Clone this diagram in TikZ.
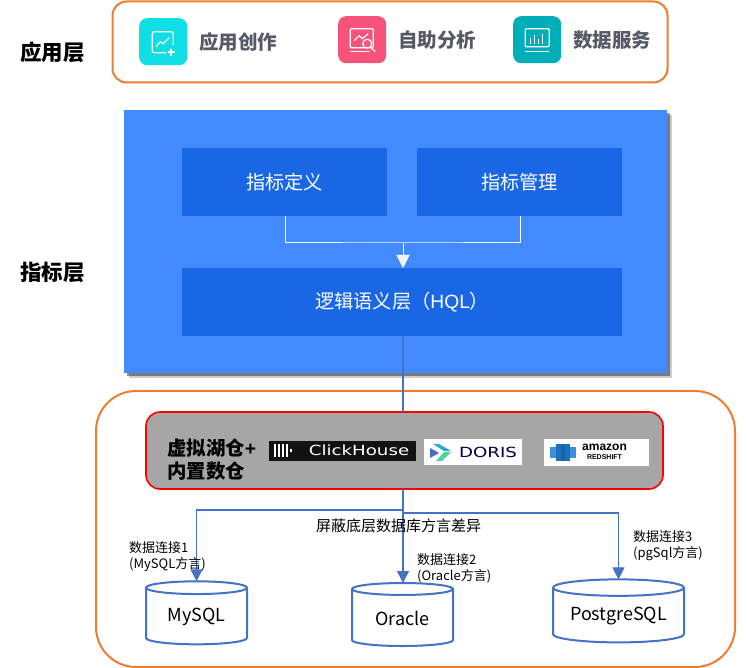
\documentclass[tikz,border=0pt]{standalone}
\usepackage{fontspec}
\setmainfont{Noto Sans CJK SC}
\newfontfamily\latinfont{Liberation Sans}
\newfontfamily\wideFont[FakeStretch=1.3]{DejaVu Sans}
\usetikzlibrary{shapes.geometric,shadows,arrows.meta}
\definecolor{layerorange}{HTML}{ED7D31}
\definecolor{linkblue}{HTML}{4472C4}
\definecolor{panelblue}{HTML}{448AFF}
\definecolor{innerblue}{HTML}{1A67E5}
\definecolor{iconink}{HTML}{555A66}
\definecolor{dorisblue}{HTML}{4A6FC0}
\definecolor{doriscyan}{HTML}{2BA6D0}
\definecolor{dorisgreen}{HTML}{4FD1A0}
\definecolor{shiftlight}{HTML}{3F8FD8}
\definecolor{shiftmid}{HTML}{1F6FBF}
\definecolor{shiftdark}{HTML}{1565A8}
\newcommand{\fsize}[1]{\fontsize{#1}{#1}\selectfont}
\tikzset{
    layerbox/.style={draw=layerorange,line width=2pt,fill=white,anchor=north west,inner sep=0pt,outer sep=0pt},
    iconbox/.style={rounded corners=8pt,anchor=north west,inner sep=0pt,minimum width=48pt,minimum height=47pt},
    innerbox/.style={fill=innerblue,text=white,anchor=north west,inner sep=0pt,minimum height=68pt,font=\fsize{19.2}},
    logobox/.style={fill=white,anchor=north west,inner sep=0pt},
    dbnode/.style={cylinder,shape border rotate=90,draw=linkblue,line width=2pt,fill=white,inner sep=0pt,outer sep=0pt,font=\fsize{18}},
    link/.style={draw=linkblue,line width=1.2pt},
    small/.style={font=\fontsize{13}{16}\selectfont,align=left,anchor=west,inner sep=0pt},
    glyph/.style={draw=white,line width=1.2pt,rounded corners=1pt},
}
\begin{document}
\begin{tikzpicture}[x=1pt,y=-1pt]
    \useasboundingbox (0,0) rectangle (748,668);
    \node[layerbox,rounded corners=14pt,minimum width=555pt,minimum height=81pt] (appbox) at (112.5,1.5) {};
    \node[layerbox,rounded corners=40pt,minimum width=639pt,minimum height=276pt] (lakeouter) at (96,391) {};
    \foreach \name/\x/\y/\colour/\txt in {
        iconA/139/18/0FDFE4/应用创作,
        iconB/338/16/F7527A/自助分析,
        iconC/513/16/00AEB9/数据服务}
    {
        \definecolor{iconfill}{HTML}{\colour}
        \node[iconbox,fill=iconfill] (\name) at (\x,\y) {};
        \node[anchor=west,inner sep=0pt,text=iconink,font=\fsize{19.5}\bfseries] (\name txt) at ([xshift=11.5pt]\name.east) {\txt};
    }
    \draw[glyph,rounded corners=2pt] ([shift={(10,3)}]iconA.center) -- ([shift={(10,-10)}]iconA.center) -- ([shift={(-11,-10)}]iconA.center) -- ([shift={(-11,11)}]iconA.center) -- ([shift={(3,11)}]iconA.center);
    \draw[glyph,rounded corners=0pt] ([shift={(-7,5)}]iconA.center) -- ++(4,-5) -- ++(3,2) -- ++(6,-6);
    \draw[glyph,rounded corners=0pt,line width=1.5pt] ([shift={(8,7)}]iconA.center) -- ++(0,7) ([shift={(4.5,10.5)}]iconA.center) -- ++(7,0);
    \draw[glyph] ([shift={(-12,-11)}]iconB.center) rectangle ++(23,19);
    \draw[glyph,rounded corners=0pt] ([shift={(-8,1)}]iconB.center) -- ++(5,-5) -- ++(3,3) -- ++(6,-5);
    \draw[glyph] ([shift={(5,4)}]iconB.center) circle (4.5pt);
    \draw[glyph,rounded corners=0pt] ([shift={(8,7)}]iconB.center) -- ++(5,5);
    \draw[glyph,rounded corners=0pt] ([shift={(-12,12)}]iconB.center) -- ++(20,0);
    \draw[glyph] ([shift={(-12,-11)}]iconC.center) rectangle ++(24,18);
    \foreach \dx/\bartop in {-7/-2,-3/-5,1/-1,5/-6}
    {
        \draw[glyph,rounded corners=0pt] ([shift={(\dx,4)}]iconC.center) -- ([shift={(\dx,\bartop)}]iconC.center);
    }
    \draw[glyph,rounded corners=0pt] ([shift={(-12,12)}]iconC.center) -- ++(24,0);
    \foreach \name/\y/\txt in {applabel/52/应用层,metriclabel/272/指标层}
    {
        \node[anchor=west,inner sep=0pt,font=\fsize{21.5}\bfseries] (\name) at (20,\y) {\txt};
    }
    \node[fill=panelblue,anchor=north west,inner sep=0pt,minimum width=543pt,minimum height=263pt,
        drop shadow={shadow xshift=5pt,shadow yshift=-5pt,opacity=.2,fill=black},
        drop shadow={shadow xshift=3pt,shadow yshift=-3pt,opacity=.4,fill=black}] (panel) at (124,110) {};
    \node[innerbox,minimum width=205pt] (define) at (182,148) {指标定义};
    \node[innerbox,minimum width=205pt] (manage) at (417,148) {指标管理};
    \node[innerbox,minimum width=440pt] (semantic) at (182,268) {逻辑语义层（{\latinfont HQL}）};
    \coordinate (defineout) at (285,216);
    \coordinate (manageout) at (520,216);
    \coordinate (merge) at (403,243);
    \draw[white,line width=1pt] (defineout) |- (merge) -| (manageout);
    \draw[white,line width=1pt,-{Triangle[length=13pt,width=13pt,fill=white!95!black]}] (merge) -- (merge |- semantic.north);
    \node[draw=red,line width=1.6pt,fill=black!35,rounded corners=14pt,anchor=north west,inner sep=0pt,outer sep=0pt,minimum width=517pt,minimum height=77pt] (lake) at (146,412) {};
    \coordinate (tapa) at (403,510);
    \coordinate (tapb) at (403,513);
    \draw[link] (tapa |- semantic.south) -- (tapa |- lake.north);
    \node[anchor=west,inner sep=0pt,align=left,font=\fsize{19.4}\bfseries] (laketxt) at (167,459.5) {虚拟湖仓{\latinfont +}\\[4pt]内置数仓};
    \node[fill=black!93,anchor=north west,inner sep=0pt,minimum width=147pt,minimum height=20pt] (clickhouse) at (269,441) {};
    \foreach \x in {275,279,283,287}
    {
        \draw[white,line width=1.6pt] (\x,444) -- (\x,457);
    }
    \draw[white,line width=1.6pt] (291,449) -- (291,452);
    \node[text=white,inner sep=0pt,font=\wideFont\fsize{14}] (clicktxt) at (359,450.5) {ClickHouse};
    \node[logobox,minimum width=98pt,minimum height=26pt] (doris) at (424,439) {};
    \fill[doriscyan] (433,444) -- (439,444) -- (451,451) -- (444,451) -- cycle;
    \fill[dorisgreen] (436,461) -- (442,461) -- (451,452) -- (444,452) -- cycle;
    \fill[dorisblue] (430,448) -- (439,453) -- (430,458) -- cycle;
    \node[text=black!75!blue,inner sep=0pt,font=\wideFont\fsize{14}] (doristxt) at (488,452) {DORIS};
    \node[logobox,minimum width=105pt,minimum height=27pt] (redshift) at (544,439) {};
    \fill[shiftlight] (550,447) rectangle (576,458);
    \fill[shiftmid] (556,444) rectangle (570,461);
    \fill[shiftdark] (561,444) rectangle (565,461);
    \node[inner sep=0pt,font=\latinfont\fsize{12}\bfseries,align=center] (redshifttxt) at (604.5,452) {amazon\\[-3pt]{\fsize{7}REDSHIFT}};
    \foreach \name/\x/\y/\bodywd/\capaspect/\drop/\txt in {
        mysql/196.5/616.5/101/.22/-12/MySQL,
        oracle/402.5/618/101/.22/-6/Oracle,
        postgres/618.5/615.5/131/.17/-14/PostgreSQL}
    {
        \node[dbnode,shape aspect=\capaspect,minimum width=\bodywd pt,minimum height=63pt] (\name) at (\x,\y) {\raisebox{\drop pt}{\txt}};
    }
    \draw[link] (tapa |- lake.south) -- (tapa) -- (tapb);
    \draw[link,-{Triangle[length=12pt,width=12pt]}] (tapa) -| (mysql.north);
    \draw[link,-{Triangle[length=12pt,width=12pt]}] (tapb) -- (tapb |- oracle.north);
    \draw[link,-{Triangle[length=12pt,width=12pt]}] (tapb) -| (postgres.north);
    \node[anchor=west,inner sep=0pt,font=\fsize{15}] (masklabel) at (316,526) {屏蔽底层数据库方言差异};
    \node[small] (linkA) at (129,557) {数据连接1\\(MySQL方言)};
    \node[small] (linkB) at (417,568) {数据连接2\\(Oracle方言)};
    \node[small] (linkC) at (633,546) {数据连接3\\(pgSql方言)};
\end{tikzpicture}
\end{document}
